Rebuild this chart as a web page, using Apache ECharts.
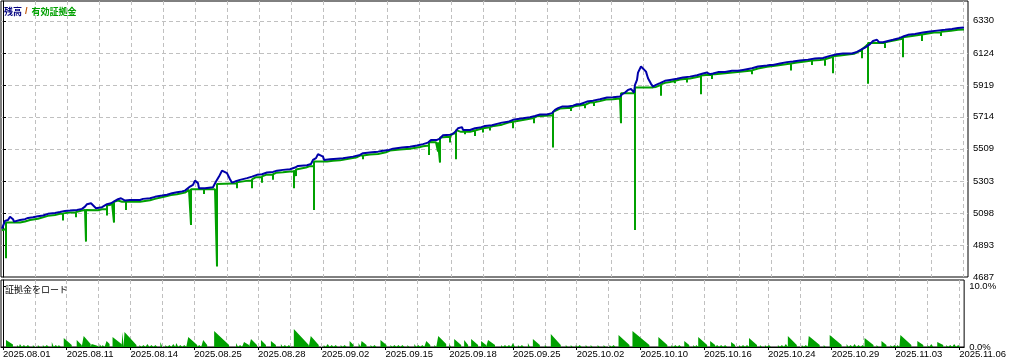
<!DOCTYPE html>
<html><head><meta charset="utf-8">
<script src="https://cdn.jsdelivr.net/npm/echarts@6/dist/echarts.min.js"></script>
<style>html,body{margin:0;padding:0;background:#fff}#c{width:1009px;height:362px}</style>
</head><body><div id="c"></div>
<script>
// ---- data (x = trade-time index, y = account value) ----
const dateLabels = ['2025.08.01','2025.08.11','2025.08.14','2025.08.25','2025.08.28','2025.09.02','2025.09.15','2025.09.18','2025.09.25','2025.10.02','2025.10.10','2025.10.16','2025.10.24','2025.10.29','2025.11.03','2025.11.06'];
const yTickLabels = [4687, 4893, 5098, 5303, 5509, 5714, 5919, 6124, 6330];
const marginTickLabels = [0, 10];

const balance = [[-1,4997],[1,5008],[2,5047],[5,5053],[7,5074],[8,5081],[10,5058],[11,5042],[12,5044],[17,5053],[22,5058],[25,5066],[30,5070],[35,5077],[40,5081],[45,5092],[52,5098],[57,5104],[62,5111],[67,5113],[74,5117],[79,5124],[82,5138],[84,5154],[88,5160],[90,5154],[93,5128],[95,5128],[99,5135],[104,5154],[108,5160],[112,5175],[115,5186],[118,5192],[120,5181],[122,5177],[127,5181],[137,5181],[140,5188],[147,5192],[152,5201],[159,5209],[164,5215],[169,5224],[174,5231],[179,5235],[182,5241],[187,5267],[190,5278],[192,5305],[194,5310],[195,5289],[196,5256],[202,5256],[210,5263],[213,5299],[216,5331],[219,5369],[221,5374],[224,5353],[227,5314],[229,5292],[232,5299],[237,5310],[244,5321],[249,5331],[254,5342],[259,5346],[264,5357],[270,5361],[274,5369],[280,5374],[287,5378],[292,5389],[295,5399],[304,5404],[308,5412],[310,5438],[313,5449],[315,5475],[317,5481],[320,5459],[321,5438],[327,5442],[334,5446],[340,5449],[350,5459],[357,5470],[360,5481],[369,5487],[375,5491],[380,5496],[386,5502],[390,5510],[399,5517],[407,5523],[414,5530],[420,5539],[425,5549],[428,5566],[430,5573],[434,5566],[437,5575],[440,5596],[447,5600],[450,5605],[453,5624],[455,5641],[459,5648],[460,5630],[467,5630],[472,5641],[477,5645],[482,5656],[489,5660],[494,5669],[499,5677],[505,5682],[510,5695],[515,5701],[520,5705],[527,5712],[532,5720],[537,5729],[544,5729],[549,5738],[552,5759],[555,5770],[559,5780],[565,5780],[570,5786],[574,5795],[577,5795],[579,5802],[584,5812],[590,5818],[597,5827],[604,5838],[610,5840],[617,5844],[619,5859],[622,5870],[625,5887],[628,5893],[630,5883],[631,5870],[632,5919],[634,5951],[635,5998],[638,6037],[640,6026],[643,6004],[645,5962],[648,5926],[650,5908],[653,5919],[657,5930],[662,5945],[667,5951],[674,5958],[680,5966],[687,5972],[694,5981],[700,5992],[704,5998],[707,5988],[710,5992],[715,6001],[722,6001],[729,6009],[735,6009],[740,6015],[749,6026],[755,6037],[764,6043],[767,6047],[770,6047],[777,6056],[784,6065],[790,6069],[797,6075],[805,6081],[812,6088],[820,6092],[827,6105],[834,6116],[840,6120],[849,6120],[854,6131],[859,6148],[862,6158],[864,6165],[867,6180],[870,6201],[874,6208],[876,6193],[880,6193],[885,6201],[890,6208],[895,6216],[900,6229],[905,6240],[912,6246],[920,6255],[927,6261],[934,6267],[942,6272],[949,6278],[955,6284],[961,6287]];

const equity = [[-1,4987],[3,4995],[3,4807],[3,5036],[17,5036],[22,5043],[27,5053],[35,5061],[45,5079],[52,5085],[57,5092],[60,5092],[60,5049],[60,5095],[67,5100],[73,5100],[73,5070],[73,5104],[79,5114],[82,5117],[83,5117],[83,4914],[83,5117],[95,5115],[99,5122],[104,5122],[104,5081],[104,5147],[107,5149],[109,5162],[111,5162],[111,5036],[111,5170],[115,5178],[119,5170],[123,5169],[123,5117],[123,5169],[137,5169],[147,5179],[152,5188],[162,5203],[168,5212],[174,5218],[182,5228],[186,5246],[188,5246],[188,5021],[188,5250],[201,5250],[201,5220],[201,5250],[212,5250],[214,5250],[214,4754],[214,5284],[229,5287],[234,5287],[234,5256],[234,5294],[237,5297],[245,5305],[249,5305],[249,5256],[249,5313],[253,5327],[259,5327],[259,5292],[259,5332],[263,5342],[270,5342],[270,5310],[270,5346],[273,5355],[280,5359],[287,5364],[291,5364],[291,5256],[291,5371],[293,5371],[293,5335],[293,5377],[295,5385],[303,5389],[307,5398],[311,5398],[311,5117],[311,5427],[324,5427],[330,5432],[337,5435],[354,5455],[357,5466],[360,5466],[360,5442],[360,5466],[367,5473],[375,5476],[383,5487],[387,5498],[397,5504],[407,5509],[417,5521],[420,5526],[426,5530],[426,5470],[426,5553],[433,5551],[435,5551],[435,5491],[435,5551],[437,5551],[437,5421],[437,5582],[440,5583],[447,5586],[447,5549],[447,5587],[450,5608],[453,5608],[453,5442],[453,5629],[458,5618],[462,5618],[462,5603],[462,5618],[467,5618],[472,5627],[472,5592],[472,5627],[474,5632],[480,5641],[480,5613],[480,5641],[487,5648],[487,5626],[487,5648],[491,5656],[499,5664],[507,5680],[510,5682],[510,5641],[510,5682],[512,5688],[524,5699],[531,5707],[531,5673],[531,5707],[534,5718],[547,5722],[550,5722],[550,5517],[550,5746],[557,5767],[568,5772],[568,5752],[568,5772],[571,5782],[582,5791],[582,5770],[582,5791],[587,5806],[591,5807],[591,5784],[591,5807],[597,5815],[603,5825],[610,5827],[617,5831],[618,5831],[618,5673],[618,5866],[632,5866],[632,4989],[632,5902],[650,5903],[653,5906],[658,5919],[658,5849],[658,5922],[662,5932],[667,5938],[672,5945],[672,5930],[672,5945],[677,5953],[684,5958],[684,5934],[684,5958],[687,5960],[693,5968],[698,5974],[698,5859],[698,5979],[703,5983],[709,5983],[709,5956],[709,5988],[712,5988],[737,6003],[749,6012],[749,5988],[749,6012],[755,6024],[764,6035],[774,6043],[788,6056],[788,6011],[788,6056],[794,6062],[802,6069],[809,6075],[809,6047],[809,6075],[817,6079],[822,6083],[822,6041],[822,6083],[824,6092],[830,6099],[830,5994],[830,6103],[837,6107],[851,6118],[856,6134],[859,6140],[859,6090],[859,6147],[863,6169],[865,6182],[865,5926],[865,6187],[877,6187],[882,6187],[882,6155],[882,6192],[897,6211],[900,6217],[900,6097],[900,6224],[902,6227],[909,6233],[919,6242],[919,6201],[919,6242],[931,6255],[938,6257],[938,6233],[938,6259],[948,6266],[955,6272],[961,6274]];

// margin load (%): ramps [xStart, xEnd, loadStart, loadEnd]
const marginRamps = [[3,10,1.15,0.41],[61,69,1.48,0.33],[74,79,1.15,0.33],[81,88,1.8,0.49],[89,94,0.49,0.25],[104,107,0.98,0.49],[110,119,1.64,0.49],[120,121,2.46,2.46],[122,134,2.46,0.33],[186,195,1.64,0.33],[201,205,1.15,0.33],[212,227,2.62,0.33],[242,247,0.82,0.33],[249,255,1.31,0.33],[259,264,1.15,0.33],[269,274,0.98,0.33],[292,307,2.95,0.33],[309,317,1.8,0.33],[348,352,0.98,0.33],[360,365,0.98,0.33],[379,385,1.15,0.33],[425,429,0.98,0.33],[437,445,1.8,0.49],[453,460,1.31,0.33],[463,467,1.15,0.33],[470,477,1.31,0.33],[480,485,0.98,0.33],[487,494,1.15,0.33],[532,539,1.31,0.33],[550,560,2.13,0.33],[618,629,1.97,0.33],[632,649,2.62,0.33],[658,667,1.64,0.33],[684,689,0.98,0.33],[698,707,1.64,0.33],[710,715,0.98,0.33],[731,735,0.82,0.33],[749,757,1.48,0.33],[788,797,1.8,0.33],[809,820,1.8,0.33],[830,842,1.97,0.33],[865,874,1.48,0.33],[882,887,0.98,0.33],[901,912,1.97,0.33],[918,924,0.98,0.33],[938,944,0.82,0.33]];
// single margin-load bars [x, load]
const marginBars = [[14,0.33],[17,0.49],[21,0.33],[25,0.33],[30,0.33],[35,0.33],[40,0.33],[44,0.33],[49,0.82],[53,0.33],[56,0.33],[97,0.49],[100,0.33],[137,0.33],[141,0.33],[145,0.49],[149,0.33],[153,0.33],[158,0.82],[163,0.33],[167,0.33],[171,0.49],[174,0.66],[178,0.33],[182,0.33],[197,0.33],[234,0.66],[238,0.33],[279,0.49],[283,0.33],[287,0.33],[322,0.33],[326,0.49],[330,0.33],[334,0.33],[339,0.33],[343,0.33],[357,0.66],[369,0.33],[373,0.33],[389,0.33],[393,0.33],[397,0.33],[401,0.33],[406,0.33],[413,0.49],[417,0.33],[421,0.33],[433,0.33],[448,0.49],[500,0.33],[504,0.33],[508,0.33],[512,0.66],[517,0.33],[521,0.33],[527,0.66],[544,0.33],[565,0.33],[570,0.33],[575,0.33],[579,0.33],[585,0.33],[590,0.33],[597,0.33],[603,0.33],[609,0.33],[613,0.33],[671,0.33],[675,0.33],[679,0.33],[693,0.33],[696,0.33],[717,0.33],[721,0.33],[725,0.33],[739,0.33],[743,0.33],[747,0.33],[760,0.33],[765,0.33],[769,0.33],[778,0.33],[782,0.33],[786,0.49],[802,0.33],[806,0.33],[824,0.33],[847,0.49],[851,0.33],[855,0.49],[859,0.33],[863,0.33],[877,0.33],[891,0.33],[895,0.33],[898,0.33],[928,0.33],[932,0.49],[947,0.33],[951,0.33],[955,0.49],[959,0.33]];

// ---- chart ----
const X_MIN = -2, X_MAX = 965, DATE_STEP = 64, GRID_STEP = 32;
const Y_MIN = 4687, Y_MAX = 6457, M_MAX = 11;
const BAR_W = 2;
const FONT = "'Liberation Sans', Arial, sans-serif";
const CJK = "'Noto Sans CJK JP', sans-serif";
const GREEN = '#00a000', BLUE = '#0000aa';

const gridTicks = [];
for (let v = 0; v <= X_MAX; v += GRID_STEP) gridTicks.push(v);
const dateTicks = dateLabels.map((_, i) => i * DATE_STEP);

const marginItems = marginRamps.map(r => ({x0: r[0], x1: r[1], h0: r[2], h1: r[3]}))
  .concat(marginBars.map(b => ({x0: b[0], x1: b[0] + BAR_W, h0: b[1], h1: b[1]})))
  .sort((a, b) => a.x0 - b.x0);
const marginPts = [];
marginItems.forEach(it => { marginPts.push([it.x0, 0], [it.x0, it.h0], [it.x1, it.h1], [it.x1, 0]); });

const dash = {color: '#c0c0c0', width: 1, type: [4, 3]};
const chart = echarts.init(document.getElementById('c'), null, {renderer: 'canvas'});
chart.setOption({
  animation: false,
  backgroundColor: '#fff',
  title: [{
    left: 4, top: 7, padding: 0,
    text: '{a|残高}{s|/}{b|有効証拠金}',
    textStyle: {rich: {
      a: {color: '#000080', fontSize: 9, fontFamily: CJK},
      s: {color: '#c05000', fontSize: 9, fontFamily: FONT, padding: [0, 4, 0, 3]},
      b: {color: GREEN, fontSize: 9, fontFamily: CJK}
    }}
  }, {
    left: 5, top: 285, padding: 0,
    text: '証拠金をロード',
    textStyle: {color: '#000', fontSize: 9, fontWeight: 'normal', fontFamily: CJK}
  }],
  grid: [
    {left: 1, right: 41, top: 1, height: 276, show: true, borderColor: '#000', borderWidth: 1, backgroundColor: '#fff'},
    {left: 1, right: 41, top: 280, height: 67, show: true, borderColor: '#000', borderWidth: 1, backgroundColor: '#fff'}
  ],
  xAxis: [
    {gridIndex: 0, type: 'value', min: X_MIN, max: X_MAX, axisLine: {show: false},
     axisTick: {show: false, customValues: gridTicks}, axisLabel: {show: false},
     splitLine: {show: true, lineStyle: dash}},
    {gridIndex: 1, type: 'value', min: X_MIN, max: X_MAX,
     axisLine: {show: true, onZero: false, lineStyle: {color: '#000', width: 1}},
     axisTick: {show: true, customValues: dateTicks, length: 3, lineStyle: {color: '#000'}},
     axisLabel: {show: true, customValues: dateTicks, align: 'left', margin: 2, fontSize: 9.5, fontFamily: FONT, color: '#000',
       formatter: v => dateLabels[Math.round(v / DATE_STEP)]},
     splitLine: {show: false}},
    {gridIndex: 1, type: 'value', min: X_MIN, max: X_MAX, axisLine: {show: false},
     axisTick: {show: false, customValues: gridTicks}, axisLabel: {show: false},
     splitLine: {show: true, lineStyle: dash}}
  ],
  yAxis: [
    {gridIndex: 0, type: 'value', position: 'right', min: Y_MIN, max: Y_MAX,
     axisLine: {show: true, lineStyle: {color: '#000', width: 1}},
     axisTick: {show: true, length: 3, customValues: yTickLabels.slice(1), lineStyle: {color: '#000'}},
     axisLabel: {show: true, customValues: yTickLabels, margin: 5, fontSize: 9.5, fontFamily: FONT, color: '#000',
       formatter: v => String(v)},
     splitLine: {show: true, lineStyle: dash}},
    {gridIndex: 1, type: 'value', position: 'right', min: 0, max: M_MAX,
     axisLine: {show: true, lineStyle: {color: '#000', width: 1}},
     axisTick: {show: true, length: 3, customValues: marginTickLabels, lineStyle: {color: '#000'}},
     axisLabel: {show: true, customValues: marginTickLabels, margin: 5, fontSize: 9.5, fontFamily: FONT, color: '#000',
       formatter: v => v.toFixed(1) + '%'},
     splitLine: {show: false}}
  ],
  series: [
    {name: '有効証拠金', type: 'line', xAxisIndex: 0, yAxisIndex: 0, data: equity, showSymbol: false, z: 2,
     lineStyle: {color: GREEN, width: 2, join: 'bevel'}},
    {name: '残高', type: 'line', xAxisIndex: 0, yAxisIndex: 0, data: balance, showSymbol: false, z: 3,
     lineStyle: {color: BLUE, width: 2}},
    {name: '証拠金をロード', type: 'line', xAxisIndex: 1, yAxisIndex: 1, data: marginPts, showSymbol: false, z: 2,
     lineStyle: {width: 0, opacity: 0}, areaStyle: {color: GREEN, opacity: 1}}
  ]
});
</script>
</body></html>
